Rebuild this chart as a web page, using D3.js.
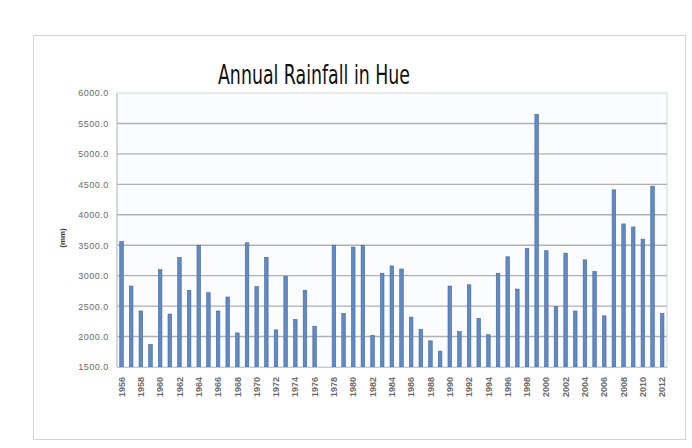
<!DOCTYPE html>
<html>
<head>
<meta charset="utf-8">
<script src="https://cdn.jsdelivr.net/npm/d3@7"></script>
<style>
  html, body { margin: 0; padding: 0; background: #fff; }
  svg { display: block; }
  .title   { font-family: "Liberation Sans Narrow", "DejaVu Sans Condensed", sans-serif; fill: #111; }
  .tick-y  { font-family: "Liberation Sans", Arial, sans-serif; font-size: 9px; letter-spacing: 0.5px; fill: #6a6a6a; }
  .tick-x  { font-family: "Liberation Sans", Arial, sans-serif; font-size: 9px; fill: #6a6a6a; font-weight: bold; }
  .y-label { font-family: "Liberation Sans", Arial, sans-serif; font-size: 8px; font-weight: bold; fill: #333; }
</style>
</head>
<body>
<div id="chart"></div>
<script>
/* ---------- Dados ---------- */
const years = d3.range(1956, 2013);           // 1956 … 2012
const rainfall = [
  3560, 2830, 2420, 1870, 3100, 2370, 3300, 2760, 3500, 2720,
  2420, 2650, 2060, 3540, 2820, 3300, 2110, 2990, 2280, 2760,
  2170, null, 3500, 2380, 3470, 3500, 2020, 3040, 3160, 3110,
  2320, 2120, 1930, 1760, 2830, 2080, 2850, 2300, 2030, 3040,
  3310, 2780, 3450, 5650, 3410, 2490, 3370, 2420, 3260, 3070,
  2340, 4410, 3850, 3800, 3600, 4470, 2380
];
const yTicks = [1500, 2000, 2500, 3000, 3500, 4000, 4500, 5000, 5500, 6000];
const title  = 'Annual Rainfall in Hue';
const yTitle = '(mm)';

/* ---------- Área ---------- */
const width = 692, height = 448;
const plot  = { left: 116.7, right: 667, top: 93, bottom: 367 };

const svg = d3.select('#chart').append('svg')
  .attr('width', width).attr('height', height);

// moldura do gráfico
svg.append('rect')
  .attr('x', 33.5).attr('y', 35.5)
  .attr('width', 652).attr('height', 404)
  .attr('fill', '#fff').attr('stroke', '#d4d4d4');

/* ---------- Escalas ---------- */
const x = d3.scaleBand()
  .domain(years)
  .range([plot.left, plot.right])
  .paddingInner(0.63).paddingOuter(0.315);

const y = d3.scaleLinear()
  .domain([1500, 6000])
  .range([plot.bottom, plot.top]);

/* ---------- Grade ---------- */
svg.append('rect')
  .attr('x', plot.left).attr('y', plot.top)
  .attr('width', plot.right - plot.left).attr('height', plot.bottom - plot.top)
  .attr('fill', '#fbfcfe').attr('stroke', '#d0d6de');

svg.append('g')
  .selectAll('line')
  .data(yTicks.slice(1, -1)).enter()
  .append('line')
  .attr('x1', plot.left).attr('x2', plot.right)
  .attr('y1', d => y(d)).attr('y2', d => y(d))
  .attr('stroke', '#b0b0b0').attr('stroke-width', 1.4);

/* ---------- Eixo Y ---------- */
const yAxis = svg.append('g')
  .attr('transform', `translate(${plot.left},0)`)
  .call(d3.axisLeft(y).tickValues(yTicks).tickFormat(d3.format('.1f')).tickSize(0).tickPadding(8));
yAxis.select('.domain').attr('stroke', '#c8c8c8');
yAxis.selectAll('text').attr('class', 'tick-y').attr('font-size', null).attr('font-family', null).attr('fill', null);

svg.append('text')
  .attr('class', 'y-label')
  .attr('transform', 'translate(65,238) rotate(-90)')
  .attr('text-anchor', 'middle')
  .text(yTitle);

/* ---------- Barras ---------- */
const rows = years.map((yr, i) => ({ year: yr, value: rainfall[i] }))
  .filter(d => d.value != null);

svg.append('g')
  .selectAll('rect')
  .data(rows).enter()
  .append('rect')
  .attr('x', d => x(d.year))
  .attr('width', x.bandwidth())
  .attr('y', d => y(d.value))
  .attr('height', d => y(1500) - y(d.value))
  .attr('fill', '#6189c4')
  .attr('stroke', '#44679f').attr('stroke-width', 0.6);

/* ---------- Eixo X (um ano sim, outro não) ---------- */
const xAxis = svg.append('g')
  .attr('transform', `translate(0,${plot.bottom})`)
  .call(d3.axisBottom(x).tickValues(years.filter((d, i) => i % 2 === 0)).tickSize(0));
xAxis.select('.domain').attr('stroke', '#c8c8c8');
xAxis.selectAll('text')
  .attr('class', 'tick-x').attr('font-size', null).attr('font-family', null).attr('fill', null)
  .attr('transform', 'rotate(-90)')
  .attr('text-anchor', 'end')
  .attr('x', -10).attr('y', 0).attr('dy', '0.35em');

/* ---------- Título ---------- */
svg.append('text')
  .attr('class', 'title')
  .attr('x', 314).attr('y', 84)
  .attr('text-anchor', 'middle')
  .attr('font-size', 27)
  .attr('textLength', 192).attr('lengthAdjust', 'spacingAndGlyphs')
  .text(title);
</script>
</body>
</html>
